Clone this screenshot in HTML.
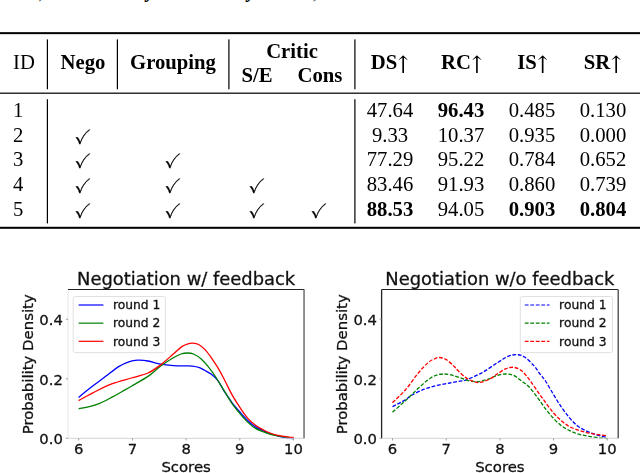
<!DOCTYPE html>
<html lang="en"><head><meta charset="utf-8"><title>Ablation table and negotiation score densities</title>
<style>
html,body{margin:0;padding:0;background:#fff}
body{width:640px;height:473px;position:relative;overflow:hidden;font-family:"Liberation Serif","DejaVu Serif",serif;color:#000}
.t{position:absolute;will-change:transform;white-space:nowrap;font-size:20.7px;line-height:24px;font-weight:400}
.t.b,.t b{font-weight:700}
.ar{font-family:"DejaVu Math TeX Gyre","DejaVu Sans",serif;font-weight:400;font-size:21.0px;display:inline-block;position:relative;top:0.8px;margin-left:0px;line-height:1px}
.ck{position:absolute;will-change:transform;-webkit-text-stroke:0.25px #000;font-family:"DejaVu Math TeX Gyre","DejaVu Sans",sans-serif;font-size:20.5px;line-height:1;font-weight:400;transform:translateX(-50%)}
.r{position:absolute}
.cut{position:absolute;font-weight:700;font-style:italic;font-size:20px;line-height:20px;white-space:nowrap}
svg{position:absolute;left:0;top:0}
svg text{font-family:"DejaVu Sans","Liberation Sans",sans-serif;fill:#111;stroke:#111;stroke-width:0.3px}
</style></head><body>
<span class="cut" style="left:38.2px;top:-18.7px;font-weight:400;font-style:normal">,</span>
<span class="cut" style="left:146.5px;top:-19.6px">y</span>
<span class="cut" style="left:247.6px;top:-19.6px">y</span>
<span class="cut" style="left:312.8px;top:-18.9px;font-weight:400;font-style:normal">,</span>
<span class="t " style="top:49.76px;left:13.30px;">ID</span>
<span class="t b" style="top:49.76px;left:82.50px;transform:translateX(-50%);">Nego</span>
<span class="t b" style="top:49.76px;left:173.00px;transform:translateX(-50%);">Grouping</span>
<span class="t b" style="top:38.51px;left:291.60px;transform:translateX(-50%);">Critic</span>
<span class="t b" style="top:62.76px;left:256.60px;transform:translateX(-50%);">S/E</span>
<span class="t b" style="top:62.76px;left:319.60px;transform:translateX(-50%);">Cons</span>
<span class="t b" style="top:49.76px;left:389.70px;transform:translateX(-50%);">DS<span class="ar">↑</span></span>
<span class="t b" style="top:49.76px;left:461.50px;transform:translateX(-50%);">RC<span class="ar">↑</span></span>
<span class="t b" style="top:49.76px;left:532.50px;transform:translateX(-50%);">IS<span class="ar">↑</span></span>
<span class="t b" style="top:49.76px;left:602.80px;transform:translateX(-50%);">SR<span class="ar">↑</span></span>
<span class="t " style="top:98.01px;left:13.30px;">1</span>
<span class="t " style="top:98.01px;left:390.00px;transform:translateX(-50%);">47.64</span>
<span class="t " style="top:98.01px;left:461.00px;transform:translateX(-50%);"><b>96.43</b></span>
<span class="t " style="top:98.01px;left:532.20px;transform:translateX(-50%);">0.485</span>
<span class="t " style="top:98.01px;left:602.70px;transform:translateX(-50%);">0.130</span>
<span class="t " style="top:123.16px;left:13.30px;">2</span>
<span class="ck" style="left:82.60px;top:127.86px">✓</span>
<span class="t " style="top:123.16px;left:390.00px;transform:translateX(-50%);">9.33</span>
<span class="t " style="top:123.16px;left:461.00px;transform:translateX(-50%);">10.37</span>
<span class="t " style="top:123.16px;left:532.20px;transform:translateX(-50%);">0.935</span>
<span class="t " style="top:123.16px;left:602.70px;transform:translateX(-50%);">0.000</span>
<span class="t " style="top:147.16px;left:13.30px;">3</span>
<span class="ck" style="left:82.60px;top:151.86px">✓</span>
<span class="ck" style="left:173.00px;top:151.86px">✓</span>
<span class="t " style="top:147.16px;left:390.00px;transform:translateX(-50%);">77.29</span>
<span class="t " style="top:147.16px;left:461.00px;transform:translateX(-50%);">95.22</span>
<span class="t " style="top:147.16px;left:532.20px;transform:translateX(-50%);">0.784</span>
<span class="t " style="top:147.16px;left:602.70px;transform:translateX(-50%);">0.652</span>
<span class="t " style="top:172.16px;left:13.30px;">4</span>
<span class="ck" style="left:82.60px;top:176.86px">✓</span>
<span class="ck" style="left:173.00px;top:176.86px">✓</span>
<span class="ck" style="left:257.00px;top:176.86px">✓</span>
<span class="t " style="top:172.16px;left:390.00px;transform:translateX(-50%);">83.46</span>
<span class="t " style="top:172.16px;left:461.00px;transform:translateX(-50%);">91.93</span>
<span class="t " style="top:172.16px;left:532.20px;transform:translateX(-50%);">0.860</span>
<span class="t " style="top:172.16px;left:602.70px;transform:translateX(-50%);">0.739</span>
<span class="t " style="top:197.01px;left:13.30px;">5</span>
<span class="ck" style="left:82.60px;top:201.71px">✓</span>
<span class="ck" style="left:173.00px;top:201.71px">✓</span>
<span class="ck" style="left:257.00px;top:201.71px">✓</span>
<span class="ck" style="left:319.20px;top:201.71px">✓</span>
<span class="t " style="top:197.01px;left:390.00px;transform:translateX(-50%);"><b>88.53</b></span>
<span class="t " style="top:197.01px;left:461.00px;transform:translateX(-50%);">94.05</span>
<span class="t " style="top:197.01px;left:532.20px;transform:translateX(-50%);"><b>0.903</b></span>
<span class="t " style="top:197.01px;left:602.70px;transform:translateX(-50%);"><b>0.804</b></span>
<svg width="640" height="473" viewBox="0 0 640 473">
<g id="rules">
<rect x="0.00" y="32.15" width="640.00" height="2.00" fill="#000"/>
<rect x="0.00" y="92.55" width="640.00" height="1.30" fill="#111"/>
<rect x="0.00" y="226.80" width="640.00" height="2.00" fill="#000"/>
<rect x="46.80" y="39.40" width="1.20" height="49.90" fill="#000"/>
<rect x="116.80" y="39.40" width="1.20" height="49.90" fill="#000"/>
<rect x="228.30" y="39.40" width="1.20" height="49.90" fill="#000"/>
<rect x="354.30" y="39.40" width="1.20" height="49.90" fill="#000"/>
<rect x="46.80" y="99.20" width="1.20" height="124.20" fill="#000"/>
<rect x="354.30" y="99.20" width="1.20" height="124.20" fill="#000"/>
</g>
<path d="M78.6 397.4 C81.0 395.4 88.7 389.2 93.3 385.6 C97.9 382.1 101.8 379.3 106.0 376.1 C110.2 372.9 114.9 369.0 118.7 366.6 C122.5 364.2 125.6 363.0 128.8 361.9 C132.0 360.8 134.5 360.4 137.7 360.2 C140.9 360.1 144.2 360.3 148.0 361.0 C151.8 361.7 156.5 363.4 160.7 364.2 C164.9 365.0 169.1 365.4 173.3 365.7 C177.5 366.0 182.8 365.7 186.0 365.8 C189.2 365.9 190.3 365.8 192.4 366.1 C194.5 366.4 196.6 366.7 198.7 367.4 C200.8 368.1 202.9 369.4 205.0 370.5 C207.1 371.6 209.3 372.6 211.4 374.3 C213.5 376.0 215.6 377.7 217.7 380.4 C219.8 383.1 221.5 387.0 223.8 390.6 C226.2 394.2 229.2 398.8 231.8 402.3 C234.5 405.8 237.1 408.8 239.7 411.8 C242.3 414.8 245.0 418.0 247.6 420.5 C250.2 423.0 252.8 425.2 255.5 426.9 C258.1 428.6 260.9 429.6 263.5 430.8 C266.1 432.0 268.8 433.1 271.4 434.0 C274.0 434.9 276.7 435.7 279.3 436.4 C281.9 437.1 284.8 437.6 287.2 438.0 C289.6 438.4 292.5 438.6 293.6 438.7" fill="none" stroke="#0000ff" stroke-width="1.3"/>
<path d="M78.6 408.7 C80.2 408.4 84.8 407.7 88.3 406.8 C91.8 405.9 95.7 404.9 99.7 403.3 C103.7 401.7 108.4 399.0 112.4 396.9 C116.4 394.8 120.6 392.4 123.8 390.6 C127.0 388.8 127.4 388.6 131.4 386.2 C135.4 383.8 143.1 379.8 148.0 376.4 C152.9 373.1 156.5 369.2 160.7 366.1 C164.9 363.0 169.9 359.8 173.3 357.8 C176.7 355.8 178.7 354.8 181.0 354.0 C183.3 353.2 185.2 353.0 187.3 353.0 C189.4 353.0 191.3 353.0 193.6 354.0 C195.9 355.0 198.7 356.9 201.2 359.1 C203.7 361.3 206.3 364.3 208.8 367.4 C211.3 370.6 213.9 374.2 216.4 378.0 C218.9 381.8 221.2 386.0 223.8 390.2 C226.4 394.4 229.2 399.2 231.8 403.1 C234.5 407.0 237.1 410.2 239.7 413.4 C242.3 416.6 245.0 419.6 247.6 422.1 C250.2 424.6 252.8 426.8 255.5 428.4 C258.1 430.0 260.9 430.9 263.5 431.9 C266.1 432.9 268.8 433.8 271.4 434.5 C274.0 435.2 276.7 435.7 279.3 436.1 C281.9 436.6 284.8 436.9 287.2 437.2 C289.6 437.5 292.5 437.9 293.6 438.0" fill="none" stroke="#008000" stroke-width="1.3"/>
<path d="M78.6 400.6 C81.0 399.3 87.7 395.4 93.3 392.6 C98.9 389.8 106.1 386.1 112.4 383.7 C118.8 381.3 125.5 379.8 131.4 378.0 C137.3 376.2 143.1 375.2 148.0 373.0 C152.9 370.8 156.5 368.0 160.7 364.8 C164.9 361.6 169.7 357.1 173.3 354.0 C176.9 350.9 179.6 348.1 182.2 346.4 C184.8 344.7 186.9 344.2 188.6 343.7 C190.3 343.2 190.7 343.1 192.4 343.2 C194.1 343.3 196.6 343.4 198.7 344.5 C200.8 345.6 202.9 347.4 205.0 349.6 C207.1 351.8 209.3 354.8 211.4 357.8 C213.5 360.8 215.6 364.0 217.7 367.4 C219.8 370.9 221.5 374.0 223.8 378.5 C226.2 383.0 229.2 389.6 231.8 394.4 C234.5 399.2 237.1 403.2 239.7 407.1 C242.3 411.1 245.0 415.1 247.6 418.1 C250.2 421.1 252.8 423.3 255.5 425.3 C258.1 427.3 260.9 428.6 263.5 430.0 C266.1 431.4 268.8 432.6 271.4 433.5 C274.0 434.4 276.7 435.1 279.3 435.6 C281.9 436.2 284.8 436.5 287.2 436.8 C289.6 437.1 292.5 437.4 293.6 437.5" fill="none" stroke="#ff0000" stroke-width="1.3"/>
<line x1="68.00" y1="289.50" x2="68.00" y2="438.30" stroke="#e6e6e6" stroke-width="1"/>
<line x1="68.00" y1="438.30" x2="304.25" y2="438.30" stroke="#d2d2d2" stroke-width="1"/>
<line x1="68.00" y1="289.50" x2="304.25" y2="289.50" stroke="#222" stroke-width="1"/>
<line x1="304.05" y1="289.50" x2="304.05" y2="438.30" stroke="#6e6e6e" stroke-width="1.5"/>
<line x1="78.74" y1="438.30" x2="78.74" y2="440.50" stroke="#8a8a8a" stroke-width="0.8"/>
<text x="78.74" y="453.80" text-anchor="middle" font-size="14.8">6</text>
<line x1="132.43" y1="438.30" x2="132.43" y2="440.50" stroke="#8a8a8a" stroke-width="0.8"/>
<text x="132.43" y="453.80" text-anchor="middle" font-size="14.8">7</text>
<line x1="186.12" y1="438.30" x2="186.12" y2="440.50" stroke="#8a8a8a" stroke-width="0.8"/>
<text x="186.12" y="453.80" text-anchor="middle" font-size="14.8">8</text>
<line x1="239.82" y1="438.30" x2="239.82" y2="440.50" stroke="#8a8a8a" stroke-width="0.8"/>
<text x="239.82" y="453.80" text-anchor="middle" font-size="14.8">9</text>
<line x1="293.51" y1="438.30" x2="293.51" y2="440.50" stroke="#8a8a8a" stroke-width="0.8"/>
<text x="293.51" y="453.80" text-anchor="middle" font-size="14.8">10</text>
<line x1="65.80" y1="438.30" x2="68.00" y2="438.30" stroke="#8a8a8a" stroke-width="0.8"/>
<text x="62.90" y="444.10" text-anchor="end" font-size="14.8">0.0</text>
<line x1="65.80" y1="378.78" x2="68.00" y2="378.78" stroke="#8a8a8a" stroke-width="0.8"/>
<text x="62.90" y="384.58" text-anchor="end" font-size="14.8">0.2</text>
<line x1="65.80" y1="319.26" x2="68.00" y2="319.26" stroke="#8a8a8a" stroke-width="0.8"/>
<text x="62.90" y="325.06" text-anchor="end" font-size="14.8">0.4</text>
<text x="186.12" y="471.70" text-anchor="middle" font-size="14.9">Scores</text>
<text transform="translate(33.40 364.30) rotate(-90)" text-anchor="middle" font-size="14.9">Probability Density</text>
<text x="186.12" y="285.30" text-anchor="middle" font-size="17.9">Negotiation w/ feedback</text>
<rect x="73.20" y="296.50" width="92.20" height="56.10" rx="2" ry="2" fill="#fff" fill-opacity="0.8" stroke="#e0e0e0" stroke-width="1"/>
<line x1="78.60" y1="305.00" x2="103.40" y2="305.00" stroke="#0000ff" stroke-width="1.2"/>
<text x="112.90" y="309.20" font-size="12.3">round 1</text>
<line x1="78.60" y1="323.15" x2="103.40" y2="323.15" stroke="#008000" stroke-width="1.2"/>
<text x="112.90" y="327.35" font-size="12.3">round 2</text>
<line x1="78.60" y1="341.30" x2="103.40" y2="341.30" stroke="#ff0000" stroke-width="1.2"/>
<text x="112.90" y="345.50" font-size="12.3">round 3</text>
<path d="M392.5 406.6 C394.6 405.5 402.1 401.8 405.3 399.9 C408.5 398.0 408.5 397.0 411.7 395.2 C414.9 393.4 420.2 390.8 424.4 389.2 C428.6 387.6 432.8 386.4 437.0 385.4 C441.2 384.4 445.9 383.7 449.7 383.0 C453.5 382.3 457.3 381.6 460.0 381.1 C462.7 380.6 462.2 381.4 465.8 380.0 C469.4 378.6 476.4 375.8 481.7 372.9 C487.0 370.0 493.0 365.4 497.5 362.6 C502.0 359.8 505.4 357.5 508.6 356.2 C511.8 354.9 514.0 354.6 516.6 354.7 C519.2 354.8 521.6 355.1 524.5 357.0 C527.4 358.9 531.4 363.0 534.0 365.8 C536.6 368.6 538.0 371.4 540.0 374.0 C542.0 376.6 543.5 378.0 545.8 381.5 C548.1 385.0 551.1 390.6 553.8 395.0 C556.4 399.4 559.1 403.8 561.7 407.6 C564.3 411.4 567.0 414.8 569.6 417.9 C572.2 420.9 574.9 423.8 577.5 425.9 C580.1 428.0 582.9 429.3 585.5 430.6 C588.1 431.9 590.8 432.9 593.4 433.8 C596.0 434.7 599.0 435.6 601.3 436.2 C603.6 436.8 606.2 437.1 607.2 437.3" fill="none" stroke="#0000ff" stroke-width="1.3" stroke-dasharray="3.8 1.7"/>
<path d="M392.5 412.2 C394.6 410.3 401.1 404.7 405.3 400.8 C409.6 396.9 414.2 392.1 418.0 388.6 C421.8 385.1 425.2 381.9 428.2 379.7 C431.2 377.5 433.3 376.2 435.8 375.3 C438.3 374.3 440.9 374.1 443.4 374.0 C445.9 373.9 448.3 374.3 451.0 374.9 C453.7 375.5 456.5 376.6 459.5 377.6 C462.5 378.6 465.8 380.1 469.0 380.8 C472.2 381.5 475.3 381.9 478.5 381.6 C481.7 381.3 484.8 380.2 488.0 379.2 C491.2 378.1 494.6 376.2 497.5 375.3 C500.4 374.4 502.9 374.0 505.5 374.0 C508.1 374.0 510.8 374.2 513.4 375.3 C516.0 376.4 518.7 378.8 521.3 380.8 C523.9 382.7 526.4 384.1 529.2 387.0 C532.0 389.9 535.1 394.4 537.9 398.1 C540.7 401.8 543.1 405.8 545.8 409.2 C548.4 412.6 551.1 415.9 553.8 418.7 C556.4 421.5 559.1 423.9 561.7 425.9 C564.3 427.9 567.0 429.3 569.6 430.6 C572.2 431.9 574.9 432.9 577.5 433.8 C580.1 434.6 582.9 435.2 585.5 435.7 C588.1 436.2 590.8 436.6 593.4 437.0 C596.0 437.4 599.0 437.8 601.3 438.1 C603.6 438.3 606.2 438.4 607.2 438.5" fill="none" stroke="#008000" stroke-width="1.3" stroke-dasharray="3.8 1.7"/>
<path d="M392.5 402.7 C394.6 400.6 401.1 394.9 405.3 390.0 C409.6 385.1 414.2 378.0 418.0 373.4 C421.8 368.8 425.4 365.0 428.2 362.6 C430.9 360.2 432.6 359.6 434.5 358.8 C436.4 357.9 437.7 357.4 439.6 357.5 C441.5 357.6 443.6 358.0 445.9 359.4 C448.2 360.8 451.5 363.8 453.5 365.7 C455.5 367.6 455.8 368.5 457.9 370.5 C459.9 372.5 463.1 375.8 465.8 377.6 C468.5 379.4 471.4 380.8 473.8 381.6 C476.2 382.4 477.5 382.8 480.1 382.4 C482.7 382.0 486.7 380.6 489.6 379.2 C492.5 377.8 494.9 375.4 497.5 373.7 C500.1 372.0 502.9 370.0 505.5 368.9 C508.1 367.8 510.8 367.0 513.4 367.3 C516.0 367.6 518.7 368.5 521.3 370.5 C523.9 372.5 526.4 375.8 529.2 379.4 C532.0 382.9 535.1 387.9 537.9 391.8 C540.7 395.7 543.1 399.3 545.8 402.9 C548.4 406.5 551.1 410.2 553.8 413.2 C556.4 416.2 559.1 418.8 561.7 421.1 C564.3 423.3 567.0 425.2 569.6 426.7 C572.2 428.1 574.9 428.9 577.5 429.8 C580.1 430.7 582.9 431.5 585.5 432.2 C588.1 432.9 590.8 433.3 593.4 433.8 C596.0 434.3 599.0 434.8 601.3 435.1 C603.6 435.4 606.2 435.6 607.2 435.7" fill="none" stroke="#ff0000" stroke-width="1.3" stroke-dasharray="3.8 1.7"/>
<line x1="381.60" y1="289.50" x2="381.60" y2="438.30" stroke="#222" stroke-width="1.3"/>
<line x1="381.75" y1="438.30" x2="618.00" y2="438.30" stroke="#d2d2d2" stroke-width="1"/>
<line x1="381.75" y1="289.50" x2="618.00" y2="289.50" stroke="#222" stroke-width="1"/>
<line x1="618.20" y1="289.50" x2="618.20" y2="438.30" stroke="#444" stroke-width="1.3"/>
<line x1="392.49" y1="438.30" x2="392.49" y2="440.50" stroke="#8a8a8a" stroke-width="0.8"/>
<text x="392.49" y="453.80" text-anchor="middle" font-size="14.8">6</text>
<line x1="446.18" y1="438.30" x2="446.18" y2="440.50" stroke="#8a8a8a" stroke-width="0.8"/>
<text x="446.18" y="453.80" text-anchor="middle" font-size="14.8">7</text>
<line x1="499.88" y1="438.30" x2="499.88" y2="440.50" stroke="#8a8a8a" stroke-width="0.8"/>
<text x="499.88" y="453.80" text-anchor="middle" font-size="14.8">8</text>
<line x1="553.57" y1="438.30" x2="553.57" y2="440.50" stroke="#8a8a8a" stroke-width="0.8"/>
<text x="553.57" y="453.80" text-anchor="middle" font-size="14.8">9</text>
<line x1="607.26" y1="438.30" x2="607.26" y2="440.50" stroke="#8a8a8a" stroke-width="0.8"/>
<text x="607.26" y="453.80" text-anchor="middle" font-size="14.8">10</text>
<line x1="379.55" y1="438.30" x2="381.75" y2="438.30" stroke="#8a8a8a" stroke-width="0.8"/>
<text x="377.00" y="444.10" text-anchor="end" font-size="14.8">0.0</text>
<line x1="379.55" y1="378.78" x2="381.75" y2="378.78" stroke="#8a8a8a" stroke-width="0.8"/>
<text x="377.00" y="384.58" text-anchor="end" font-size="14.8">0.2</text>
<line x1="379.55" y1="319.26" x2="381.75" y2="319.26" stroke="#8a8a8a" stroke-width="0.8"/>
<text x="377.00" y="325.06" text-anchor="end" font-size="14.8">0.4</text>
<text x="499.88" y="471.70" text-anchor="middle" font-size="14.9">Scores</text>
<text transform="translate(346.80 364.30) rotate(-90)" text-anchor="middle" font-size="14.9">Probability Density</text>
<text x="499.88" y="285.30" text-anchor="middle" font-size="17.9">Negotiation w/o feedback</text>
<rect x="520.30" y="296.50" width="92.20" height="56.10" rx="2" ry="2" fill="#fff" fill-opacity="0.8" stroke="#e0e0e0" stroke-width="1"/>
<line x1="524.80" y1="305.00" x2="549.60" y2="305.00" stroke="#0000ff" stroke-width="1.2" stroke-dasharray="3.8 1.7"/>
<text x="559.10" y="309.20" font-size="12.3">round 1</text>
<line x1="524.80" y1="323.15" x2="549.60" y2="323.15" stroke="#008000" stroke-width="1.2" stroke-dasharray="3.8 1.7"/>
<text x="559.10" y="327.35" font-size="12.3">round 2</text>
<line x1="524.80" y1="341.30" x2="549.60" y2="341.30" stroke="#ff0000" stroke-width="1.2" stroke-dasharray="3.8 1.7"/>
<text x="559.10" y="345.50" font-size="12.3">round 3</text>
</svg>
</body></html>
